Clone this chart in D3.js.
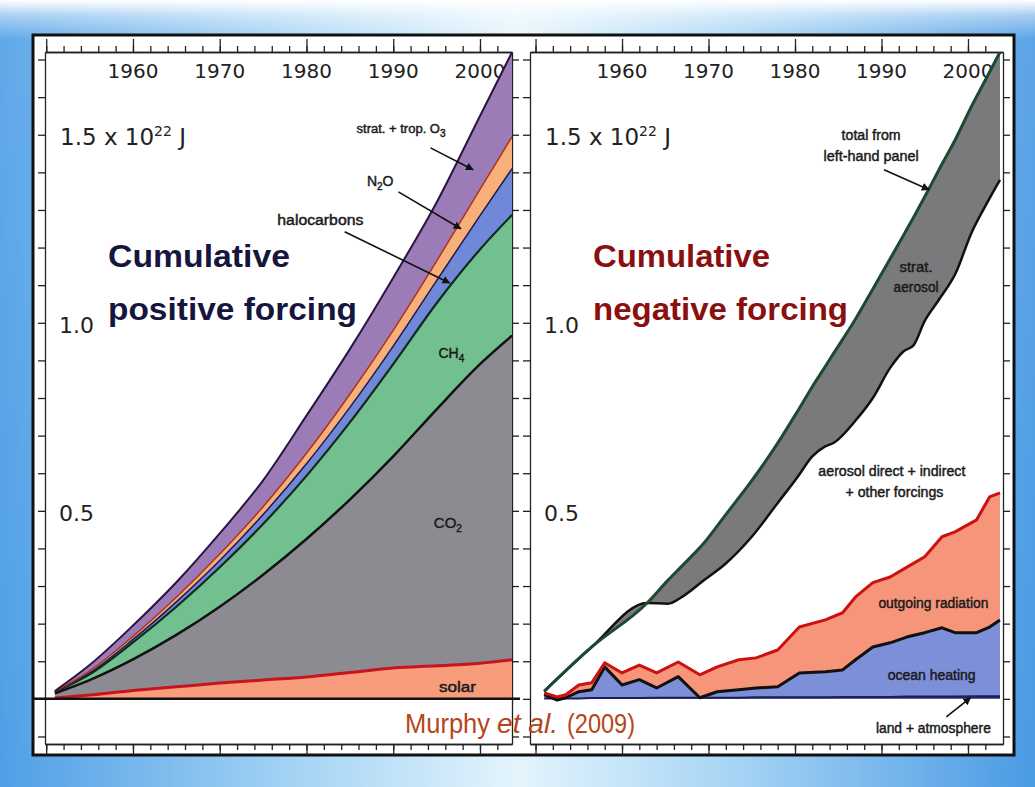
<html>
<head>
<meta charset="utf-8">
<style>
  body { margin: 0; background: #fff; }
  svg { display: block; }
  text { font-family: "DejaVu Sans", sans-serif; fill: #222; }
  .lbl { font-family: "Liberation Sans", Arial, sans-serif; font-size: 14px; fill: #1a1a1a; stroke: #1a1a1a; stroke-width: 0.45px; }
  .title { font-family: "Liberation Sans", Arial, sans-serif; font-weight: bold; font-size: 32px; }
  .cap { font-family: "Liberation Sans", Arial, sans-serif; font-size: 28px; fill: #b5461a; }
  .axis path, .axis line { stroke: #222; stroke-width: 1.3px; }
</style>
</head>
<body>
<svg></svg>
<script src="https://d3js.org/d3.v7.min.js"></script>
<script>
let width = 1035, height = 787;

// ---- left panel: cumulative positive forcing (10^22 J), one value per layer
let years = [1951, 1955, 1960, 1965, 1970, 1975, 1980, 1985, 1990, 1995, 2000, 2003.7];
let solar = [.002, .010, .022, .032, .042, .050, .058, .070, .082, .088, .095, .104];
let co2 = [.013, .040, .083, .138, .203, .280, .367, .460, .563, .682, .795, .862];
let ch4 = [.003, .015, .045, .075, .105, .135, .168, .205, .245, .282, .305, .321];
let halocarbons = [.001, .004, .008, .013, .018, .025, .032, .040, .048, .060, .090, .123];
let n2o = [.001, .005, .008, .012, .017, .021, .028, .035, .042, .052, .070, .085];
let o3 = [.001, .016, .029, .040, .055, .070, .100, .120, .140, .156, .195, .225];

// ---- right panel: total from left panel and what is left after strat. aerosol
let rightYears = [1951, 1956.5, 1962.9, 1965.3, 1967, 1969.5, 1972, 1975, 1978, 1980.3, 1982, 1983.4,
                  1984.5, 1987, 1989, 1991, 1992.6, 1993.7, 1995, 1996.6, 1998.6, 2000.4, 2002, 2003.7];
let totalFromLeft = [.020, .138, .255, .315, .355, .415, .490, .580, .680, .765, .830, .880,
                     .920, 1.010, 1.090, 1.170, 1.235, 1.280, 1.335, 1.405, 1.490, 1.575, 1.645, 1.720];
let afterStratAerosol = [.020, .138, .255, .253, .272, .316, .360, .431, .521, .590, .645, .670,
                         .681, .740, .800, .880, .925, .940, 1.005, 1.060, 1.133, 1.239, 1.310, 1.380];

// ---- right panel: where the energy went
let flowYears = [1951, 1952.5, 1953.5, 1955, 1956.5, 1958, 1960, 1962, 1964, 1966.5, 1969, 1971, 1973.5, 1975.5,
                 1978, 1980.5, 1983.5, 1985.5, 1987, 1989, 1991, 1993, 1995, 1997, 1998.5, 2001, 2002.5, 2003.7];
let landAtmosphere = [.001, .001, .001, .001, .002, .002, .002, .002, .003, .003, .003, .003, .003, .004,
                      .004, .004, .004, .005, .005, .005, .005, .006, .006, .006, .006, .007, .007, .007];
let oceanHeating = [.010, -.004, .002, .018, .022, .083, .035, .049, .026, .056, .000, .016, .021, .025,
                    .028, .065, .068, .072, .099, .133, .144, .159, .170, .183, .170, .169, .184, .203];
let outgoingRadiation = [.005, .008, .008, .018, .019, .011, .032, .039, .040, .039, .061, .066, .080, .080,
                         .098, .122, .138, .152, .167, .171, .175, .186, .202, .242, .268, .300, .346, .338];

let yearLabels = [1960, 1970, 1980, 1990, 2000];
let valueLabels = ["0.5", "1.0"];

let svg = d3.select("svg").attr("width", width).attr("height", height);
let defs = svg.append("defs");

// blue picture frame around the figure
let bg = defs.append("linearGradient").attr("id", "bgH");
[["0%", "#4f9fe6"], ["30%", "#a9d6f5"], ["50%", "#e4f4fc"], ["70%", "#a9d6f5"], ["100%", "#4a9ae4"]]
  .forEach(s => bg.append("stop").attr("offset", s[0]).attr("stop-color", s[1]));
let bgTop = defs.append("linearGradient").attr("id", "bgV").attr("x1", 0).attr("x2", 0).attr("y1", 0).attr("y2", 1);
[["0%", "#ffffff", 1], ["2%", "#ffffff", 0.5], ["5%", "#ffffff", 0.1], ["100%", "#ffffff", 0]]
  .forEach(s => bgTop.append("stop").attr("offset", s[0]).attr("stop-color", s[1]).attr("stop-opacity", s[2]));
svg.append("rect").attr("width", width).attr("height", height).attr("fill", "url(#bgH)");
svg.append("rect").attr("width", width).attr("height", height).attr("fill", "url(#bgV)");
svg.append("rect").attr("x", 33).attr("y", 35).attr("width", 981).attr("height", 720)
  .attr("fill", "#fff").attr("stroke", "#111").attr("stroke-width", 3);

defs.append("marker").attr("id", "arrow").attr("viewBox", "0 0 10 10")
  .attr("refX", 9).attr("refY", 5).attr("markerWidth", 5).attr("markerHeight", 5).attr("orient", "auto")
  .append("path").attr("d", "M0,0 L10,5 L0,10 z").attr("fill", "#111");

let y = d3.scaleLinear().domain([-0.12, 1.72]).range([744, 52]);
let xL = d3.scaleLinear().domain([1949.86, 2003.69]).range([45, 512]);
let xR = d3.scaleLinear().domain([1949.36, 2004.05]).range([530, 1003]);

function panel(x, id) {
  let g = svg.append("g");
  let [x0, x1] = x.range();
  let [yb, yt] = y.range();
  defs.append("clipPath").attr("id", id).append("rect")
    .attr("x", x0).attr("y", yt).attr("width", x1 - x0).attr("height", yb - yt);

  let minor = d3.range(1950, 2004, 2), major = d3.range(1950, 2004, 10);
  let vTicks = d3.range(-1, 18).map(d => d / 10);
  g.append("g").attr("class", "axis").attr("transform", `translate(0,${yt})`)
    .call(d3.axisTop(x).tickValues(minor).tickSize(6).tickSizeOuter(0).tickFormat(""));
  g.append("g").attr("class", "axis").attr("transform", `translate(0,${yt})`)
    .call(d3.axisTop(x).tickValues(major).tickSize(13).tickSizeOuter(0).tickFormat(""));
  g.append("g").attr("class", "axis").attr("transform", `translate(0,${yb})`)
    .call(d3.axisBottom(x).tickValues(minor).tickSize(6).tickSizeOuter(0).tickFormat(""));
  g.append("g").attr("class", "axis").attr("transform", `translate(0,${yb})`)
    .call(d3.axisBottom(x).tickValues(major).tickSize(11).tickSizeOuter(0).tickFormat(""));
  g.append("g").attr("class", "axis").attr("transform", `translate(${x0},0)`)
    .call(d3.axisLeft(y).tickValues(vTicks).tickSize(7).tickSizeOuter(0).tickFormat(""));
  g.append("g").attr("class", "axis").attr("transform", `translate(${x1},0)`)
    .call(d3.axisRight(y).tickValues(vTicks).tickSize(7).tickSizeOuter(0).tickFormat(""));

  // labels sit inside the box
  g.selectAll(".yr").data(yearLabels).enter().append("text")
    .attr("x", d => x(d)).attr("y", 78).attr("text-anchor", "middle")
    .style("font-size", "20px").text(d => d);
  let lx = x0 + 15;
  let t = g.append("text").attr("x", lx).attr("y", y(1.5) + 10).style("font-size", "23px");
  t.append("tspan").text("1.5 x 10");
  t.append("tspan").attr("dy", -9).style("font-size", "14px").text("22");
  t.append("tspan").attr("dy", 9).text(" J");
  g.selectAll(".vl").data(valueLabels).enter().append("text")
    .attr("x", lx - 1).attr("y", d => y(+d) + 10).style("font-size", "22px").text(d => d);
  return g;
}

function label(g, x, year, val, str, len) {
  let t = g.append("text").attr("class", "lbl")
    .attr("x", x(year)).attr("y", y(val)).attr("text-anchor", "middle");
  if (len) t.attr("textLength", len).attr("lengthAdjust", "spacingAndGlyphs");
  return t.text(str);
}
function chem(g, x, year, val, base, sub, tail, size) {
  let t = g.append("text").attr("class", "lbl").attr("x", x(year)).attr("y", y(val))
    .attr("text-anchor", "middle").style("font-size", (size || 14) + "px");
  t.append("tspan").text(base);
  t.append("tspan").attr("dy", 4).style("font-size", "10px").text(sub);
  if (tail) t.append("tspan").attr("dy", -4).text(tail);
  return t;
}
function arrow(g, x, a, b) {
  g.append("line").attr("x1", x(a[0])).attr("y1", y(a[1])).attr("x2", x(b[0])).attr("y2", y(b[1]))
    .attr("stroke", "#111").attr("stroke-width", 1.6).attr("marker-end", "url(#arrow)");
}

// ================= left panel
let gl = panel(xL, "clipL");
let keys = ["solar", "co2", "ch4", "halocarbons", "n2o", "o3"];
let layerFill = {solar: "#f89c7c", co2: "#8b8b91", ch4: "#72c08f", halocarbons: "#7088d8", n2o: "#f7b07a", o3: "#9c7cb7"};
let layerLine = {solar: "#c8141e", co2: "#111", ch4: "#0f2a1a", halocarbons: "#1a1a50", n2o: "#b0301a", o3: "#2a1440"};
let layerWidth = {solar: 3, co2: 2.5, ch4: 2.2, halocarbons: 1.5, n2o: 1.5, o3: 2};
let posData = years.map((yr, i) => ({year: yr, solar: solar[i], co2: co2[i], ch4: ch4[i],
  halocarbons: halocarbons[i], n2o: n2o[i], o3: o3[i]}));
let series = d3.stack().keys(keys)(posData);

let areaL = d3.area().x(d => xL(d.data.year)).y0(d => y(d[0])).y1(d => y(d[1])).curve(d3.curveMonotoneX);
let topL = d3.line().x(d => xL(d.data.year)).y(d => y(d[1])).curve(d3.curveMonotoneX);
let plotL = gl.append("g").attr("clip-path", "url(#clipL)");
plotL.selectAll(".layer").data(series).enter().append("path")
  .attr("d", areaL).attr("fill", d => layerFill[d.key]);
plotL.selectAll(".edge").data(series).enter().append("path")
  .attr("d", topL).attr("fill", "none")
  .attr("stroke", d => layerLine[d.key]).attr("stroke-width", d => layerWidth[d.key]);

gl.append("line").attr("x1", 33).attr("x2", 520).attr("y1", y(0)).attr("y2", y(0))
  .attr("stroke", "#111").attr("stroke-width", 2.5);

gl.append("text").attr("class", "title").attr("x", 108).attr("y", 267).style("fill", "#15163d")
  .attr("textLength", 182).attr("lengthAdjust", "spacingAndGlyphs").text("Cumulative");
gl.append("text").attr("class", "title").attr("x", 108).attr("y", 320).style("fill", "#15163d")
  .attr("textLength", 249).attr("lengthAdjust", "spacingAndGlyphs").text("positive forcing");

chem(gl, xL, 1990.9, 1.505, "strat. + trop. O", "3", null, 13);
arrow(gl, xL, [1994.3, 1.465], [1999.2, 1.407]);
chem(gl, xL, 1988.5, 1.364, "N", "2", "O", 14);
arrow(gl, xL, [1990.6, 1.348], [1997.8, 1.25]);
label(gl, xL, 1981.6, 1.26, "halocarbons", 86);
arrow(gl, xL, [1984.4, 1.242], [1996.5, 1.106]);
chem(gl, xL, 1996.7, 0.907, "CH", "4", null, 14);
chem(gl, xL, 1996.3, 0.455, "CO", "2", null, 15);
label(gl, xL, 1997.4, 0.019, "solar", 37);

// ================= right panel
let gr = panel(xR, "clipR");
let plotR = gr.append("g").attr("clip-path", "url(#clipR)");
let upper = rightYears.map((yr, i) => ({year: yr, total: totalFromLeft[i], rest: afterStratAerosol[i]}));
plotR.append("path").datum(upper)
  .attr("d", d3.area().x(d => xR(d.year)).y0(d => y(d.rest)).y1(d => y(d.total)).curve(d3.curveMonotoneX))
  .attr("fill", "#7a7a7c");
plotR.append("path").datum(upper)
  .attr("d", d3.line().x(d => xR(d.year)).y(d => y(d.rest)).curve(d3.curveMonotoneX))
  .attr("fill", "none").attr("stroke", "#111").attr("stroke-width", 2.5);
plotR.append("path").datum(upper)
  .attr("d", d3.line().x(d => xR(d.year)).y(d => y(d.total)).curve(d3.curveMonotoneX))
  .attr("fill", "none").attr("stroke", "#1b4a30").attr("stroke-width", 3);

let flowKeys = ["land", "ocean", "outgoing"];
let flowData = flowYears.map((yr, i) => ({year: yr, land: landAtmosphere[i], ocean: oceanHeating[i], outgoing: outgoingRadiation[i]}));
let flows = d3.stack().keys(flowKeys)(flowData);
let flowFill = {land: "#2a2f6a", ocean: "#7d8fd8", outgoing: "#f7957a"};
let flowLine = {land: "#1a1f5a", ocean: "#111", outgoing: "#cc1111"};
let areaR = d3.area().x(d => xR(d.data.year)).y0(d => y(d[0])).y1(d => y(d[1]));
let topR = d3.line().x(d => xR(d.data.year)).y(d => y(d[1]));
plotR.selectAll(".flow").data(flows).enter().append("path")
  .attr("d", areaR).attr("fill", d => flowFill[d.key]);
plotR.selectAll(".fedge").data(flows).enter().append("path")
  .attr("d", topR).attr("fill", "none").attr("stroke-linejoin", "round")
  .attr("stroke", d => flowLine[d.key]).attr("stroke-width", d => d.key == "land" ? 2 : 3);

gr.append("text").attr("class", "title").attr("x", 593).attr("y", 267).style("fill", "#8a1010")
  .attr("textLength", 177).attr("lengthAdjust", "spacingAndGlyphs").text("Cumulative");
gr.append("text").attr("class", "title").attr("x", 593).attr("y", 320).style("fill", "#8a1010")
  .attr("textLength", 255).attr("lengthAdjust", "spacingAndGlyphs").text("negative forcing");

label(gr, xR, 1988.8, 1.487, "total from", 59);
label(gr, xR, 1988.8, 1.431, "left-hand panel", 95);
arrow(gr, xR, [1990.3, 1.407], [1995.5, 1.354]);
label(gr, xR, 1994.0, 1.136, "strat.", 33);
label(gr, xR, 1994.0, 1.082, "aerosol", 45);
label(gr, xR, 1991.2, 0.593, "aerosol direct + indirect", 147);
label(gr, xR, 1991.5, 0.537, "+ other forcings", 98);
label(gr, xR, 1996.0, 0.242, "outgoing radiation", 110);
label(gr, xR, 1995.8, 0.050, "ocean heating", 88);
label(gr, xR, 1996.0, -0.090, "land + atmosphere", 115);
arrow(gr, xR, [1997.5, -0.048], [2000.3, 0.003]);

// source line, in three pieces so the italic part keeps its place
let capParts = [["Murphy", 405, 85, "normal"], ["et al.", 497, 61, "italic"], ["(2009)", 567, 68, "normal"]];
svg.selectAll(".cap").data(capParts).enter().append("text").attr("class", "cap")
  .attr("x", d => d[1]).attr("y", 733)
  .attr("textLength", d => d[2]).attr("lengthAdjust", "spacingAndGlyphs")
  .style("font-style", d => d[3]).text(d => d[0]);
</script>
</body>
</html>
